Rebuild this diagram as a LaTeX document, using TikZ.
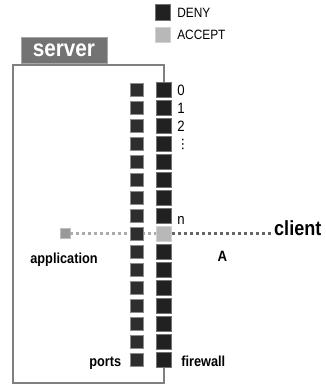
\documentclass[tikz,border=0pt]{standalone}
\usepackage{fontspec}
\setmainfont[FakeStretch=0.88]{Liberation Sans}
\newfontfamily\dvsym{DejaVu Sans}
\begin{document}
\begin{tikzpicture}[x=1pt,y=-1pt,
  deny/.style={fill=black!87, draw=black!55, line width=0.6pt, minimum size=15.5pt, inner sep=0pt},
  acc/.style={fill=black!28, draw=black!18, line width=0.6pt, minimum size=15.5pt, inner sep=0pt},
  port/.style={fill=black!82, draw=black!45, line width=0.6pt, minimum size=12.5pt, inner sep=0pt},
  src/.style={fill=black!40, draw=black!25, line width=0.6pt, minimum size=10pt, inner sep=0pt},
  lbl/.style={font=\fontsize{15}{15}\selectfont, inner sep=0pt},
  leg/.style={font=\fontsize{13.5}{14}\selectfont, inner sep=0pt, anchor=west},
  blbl/.style={font=\bfseries\fontsize{14.5}{15}\selectfont, inner sep=0pt},
  frame/.style={draw=black!50, line width=2.4pt},
  tab/.style={fill=black!55, draw=black!35, line width=1pt, minimum width=86pt, minimum height=26pt,
    text=white, font=\bfseries\fontsize{23.5}{24}\selectfont, inner sep=0pt},
  dotsl/.style={draw=black!33, line width=3pt, dash pattern=on 2.5pt off 3.5pt},
  dotsr/.style={draw=black!60, line width=3pt, dash pattern=on 2.5pt off 3.5pt}]
\useasboundingbox (0,0) rectangle (326,385);

% legend
\node[deny] (ldeny) at (163,12.5) {};
\node[acc] (lacc) at (163,35) {};
\node[leg] (tdeny) at ([xshift=6pt]ldeny.east) {DENY};
\node[leg] (tacc) at ([xshift=6pt]lacc.east) {ACCEPT};

% ports and firewall columns (placed first for names)
\foreach \i in {0,...,15} {
  \node[port] (p\i) at (137,{90+18*\i}) {};
}
\foreach \i in {0,...,7,9,10,11,12,13,14,15} {
  \node[deny] (f\i) at (164,{90+18*\i}) {};
}
\node[acc] (f8) at (164,{90+18*8}) {};

% source square and client
\node[src] (app) at (65,233) {};
\node[font=\bfseries\fontsize{20.5}{21}\selectfont, inner sep=0pt, anchor=west] (client) at (274,228) {client};

% server box
\draw[frame] (f0.north) -- (164,65) -- (13,65) -- (13,383) -- (164,383) -- (f15.south);
\node[tab, anchor=south] (server) at (64,64) {server};

% dotted connection
\draw[dotsl] (app.east) -- (app -| f8.west);
\draw[dotsr] (app -| f8.east) -- (app -| client.west);

% redraw columns on top
\foreach \i in {0,...,15} {
  \node[port] at (p\i) {};
}
\foreach \i in {0,...,7,9,10,11,12,13,14,15} {
  \node[deny] at (f\i) {};
}
\node[acc] at (f8) {};

% labels
\node[lbl, anchor=west] (l0) at ([xshift=5pt]f0.east) {0};
\node[lbl, anchor=west] (l1) at ([xshift=5pt]f1.east) {1};
\node[lbl, anchor=west] (l2) at ([xshift=5pt]f2.east) {2};
\node[font=\dvsym\fontsize{13}{13}\selectfont, inner sep=0pt, anchor=west] (l3) at ([xshift=4pt]f3.east) {⋮};
\node[lbl, anchor=west] (ln) at ([xshift=5pt,yshift=-4pt]f7.east) {n};
\node[font=\bfseries\fontsize{15}{15}\selectfont, inner sep=0pt] (A) at (222.5,256) {A};
\node[blbl, anchor=base] (application) at (64,263) {application};
\node[blbl, anchor=base east] (ports) at ([xshift=-9pt]p15.west |- 0,366) {ports};
\node[blbl, anchor=base west] (firewall) at ([xshift=9pt]f15.east |- 0,366) {firewall};
\end{tikzpicture}
\end{document}
